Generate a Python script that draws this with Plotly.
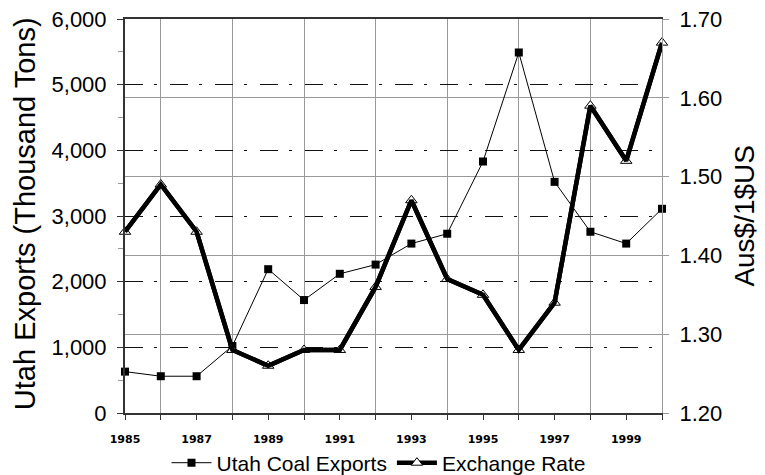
import plotly.graph_objects as go

years = list(range(1985, 2001))
coal_exports = [630, 560, 560, 1020, 2190, 1720, 2120, 2260, 2580, 2730, 3830, 5490, 3520, 2760, 2580, 3110]
exchange_rate = [1.43, 1.49, 1.43, 1.28, 1.26, 1.28, 1.28, 1.36, 1.47, 1.37, 1.35, 1.28, 1.34, 1.59, 1.52, 1.67]
x_tick_labels = [str(y) for y in range(1985, 2000, 2)]
x_grid_years = list(range(1986, 2001, 2))
left_ticks = [0, 1000, 2000, 3000, 4000, 5000, 6000]
right_ticks = [1.2, 1.3, 1.4, 1.5, 1.6, 1.7]

FONT = "Liberation Sans, Arial, sans-serif"
GRID = "#9a9a9a"
AXIS = "#333333"

fig = go.Figure()
fig.add_trace(go.Scatter(
    x=years, y=coal_exports, name="Utah Coal Exports", mode="lines+markers",
    line=dict(color="black", width=1),
    marker=dict(symbol="square", size=8, color="black"),
    cliponaxis=False, yaxis="y"))
fig.add_trace(go.Scatter(
    x=years, y=exchange_rate, name="Exchange Rate", mode="lines+markers",
    line=dict(color="black", width=4.5),
    marker=dict(symbol="triangle-up", size=10, color="white", line=dict(color="black", width=1)),
    cliponaxis=False, yaxis="y2"))
# the thick line is drawn again over its own markers, as in the reference
fig.add_trace(go.Scatter(
    x=years, y=exchange_rate, name="Exchange Rate", mode="lines", showlegend=False,
    line=dict(color="black", width=4.5), hoverinfo="skip",
    cliponaxis=False, yaxis="y2"))

# page body has an 8px margin, so the figure is sized/offset to fit the 765x475 window
fig.update_layout(
    width=757, height=467,
    margin=dict(l=117, r=103, t=11, b=62, autoexpand=False),
    paper_bgcolor="white", plot_bgcolor="white",
    font=dict(family=FONT, color="black"),
    showlegend=True,
    legend=dict(orientation="h", x=0.473, xanchor="center", y=-0.127, yanchor="middle",
                font=dict(size=21, family=FONT), itemwidth=40, traceorder="normal",
                bgcolor="rgba(0,0,0,0)"),
    xaxis=dict(
        range=[1985, 2000], tickvals=[int(t) for t in x_tick_labels], ticktext=x_tick_labels,
        showgrid=False, zeroline=False, automargin=False,
        showline=True, linecolor=AXIS, linewidth=1.5, mirror=True,
        ticks="outside", ticklen=5, tickcolor=AXIS, tickwidth=1,
        ticklabelstandoff=10,
        tickfont=dict(size=11, family="DejaVu Sans", weight="bold"),
        minor=dict(tickvals=x_grid_years, showgrid=True, gridcolor=GRID, gridwidth=1,
                   ticks="outside", ticklen=5, tickcolor=AXIS),
    ),
    yaxis=dict(
        range=[0, 6000], tickvals=left_ticks, tickformat=",", automargin=False,
        ticklabeloverflow="allow",
        showgrid=True, gridcolor="#111111", gridwidth=1, griddash="18px,11px,3px,13px",
        zeroline=False, showline=True, linecolor=AXIS, linewidth=2,
        ticks="outside", ticklen=6, tickcolor=AXIS,
        ticklabelstandoff=6,
        tickfont=dict(size=22, family=FONT),
        minor=dict(dtick=500, ticks="outside", ticklen=5, tickcolor=GRID, showgrid=False),
    ),
    yaxis2=dict(
        range=[1.2, 1.7], tickvals=right_ticks, tickformat=".2f", automargin=False,
        ticklabeloverflow="allow",
        overlaying="y", side="right",
        showgrid=True, gridcolor=GRID, gridwidth=1, zeroline=False,
        showline=True, linecolor=GRID, linewidth=1,
        ticks="outside", ticklen=6, tickcolor=GRID,
        ticklabelstandoff=6,
        tickfont=dict(size=22, family=FONT),
    ),
    annotations=[
        dict(text="Utah Exports (Thousand Tons)", xref="paper", yref="paper",
             x=-0.186, y=0.505, xanchor="center", yanchor="middle", textangle=-90,
             showarrow=False, font=dict(size=29, family=FONT)),
        dict(text="Aus$/1$US", xref="paper", yref="paper",
             x=1.152, y=0.5, xanchor="center", yanchor="middle", textangle=-90,
             showarrow=False, font=dict(size=28, family=FONT)),
    ],
)

fig.write_html("out.html")
